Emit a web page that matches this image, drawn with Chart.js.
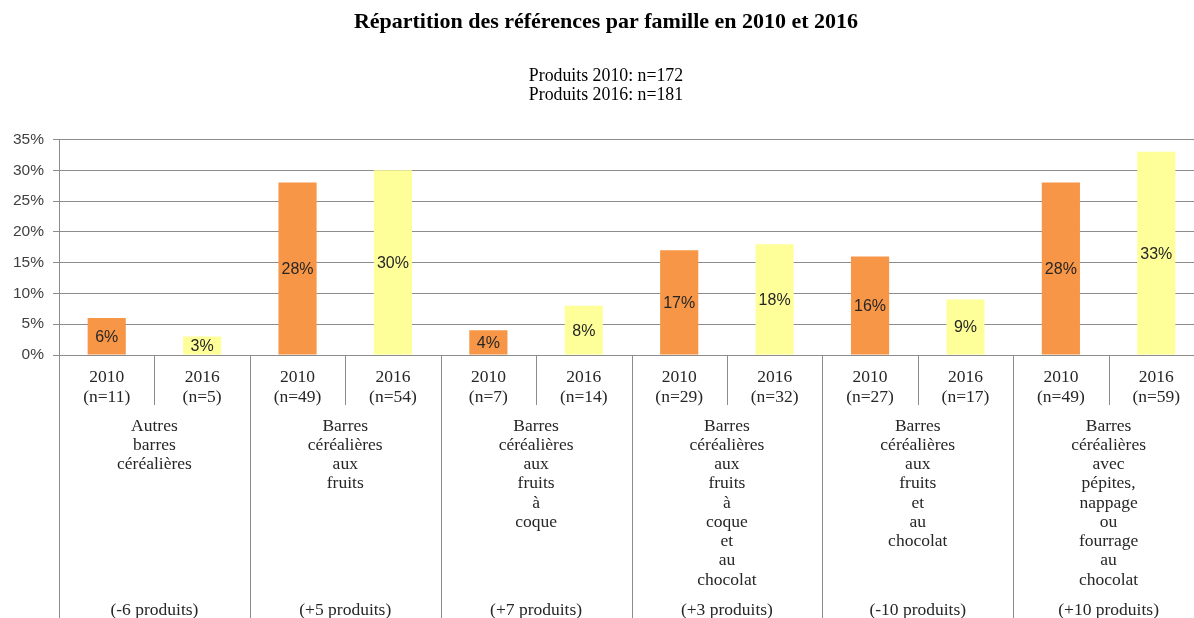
<!DOCTYPE html>
<html lang="fr">
<head>
<meta charset="utf-8">
<title>Répartition des références par famille en 2010 et 2016</title>
<script src="https://cdn.jsdelivr.net/npm/chart.js@4/dist/chart.umd.min.js"></script>
<style>
  html, body { margin: 0; padding: 0; background: #fff; overflow: hidden; }
  /* la zone de tracé déborde un peu à droite, comme dans l'original */
  #wrap { position: relative; width: 1204px; height: 618px; }
</style>
</head>
<body>
<div id="wrap"><canvas id="graphique"></canvas></div>
<script>
// familles de produits (un mot par ligne sous l'axe)
const familles = [
    'Autres barres céréalières',
    'Barres céréalières aux fruits',
    'Barres céréalières aux fruits à coque',
    'Barres céréalières aux fruits à coque et au chocolat',
    'Barres céréalières aux fruits et au chocolat',
    'Barres céréalières avec pépites, nappage ou fourrage au chocolat'
];
const annees = ['2010', '2016'];
const n2010 = [11, 49, 7, 29, 27, 49];
const n2016 = [5, 54, 14, 32, 17, 59];
const part2010 = [6, 28, 4, 17, 16, 28];
const part2016 = [3, 30, 8, 18, 9, 33];
const ecarts = ['-6', '+5', '+7', '+3', '-10', '+10'];
const ticksY = [0, 5, 10, 15, 20, 25, 30, 35];

const couleur2010 = '#F79646';
const couleur2016 = '#FFFF99';
const couleurTrait = '#8c8c8c';
const policeSerif = '"Liberation Serif", serif';
const policeSans = '"Liberation Sans", Arial, sans-serif';

// on entrelace 2010 / 2016 pour chaque famille
let etiquettes = [];
let valeurs = [];
let couleurs = [];
familles.forEach(function(nom, f) {
    etiquettes.push([annees[0], `(n=${n2010[f]})`]);
    valeurs.push(part2010[f]);
    couleurs.push(couleur2010);
    etiquettes.push([annees[1], `(n=${n2016[f]})`]);
    valeurs.push(part2016[f]);
    couleurs.push(couleur2016);
});

const etiquettesBarres = {
    id: 'etiquettesBarres',
    afterDatasetsDraw(chart) {
        const ctx = chart.ctx;
        const meta = chart.getDatasetMeta(0);
        ctx.save();
        ctx.font = `16px ${policeSans}`;
        ctx.fillStyle = '#262626';
        ctx.textAlign = 'center';
        ctx.textBaseline = 'middle';
        meta.data.forEach(function(barre, i) {
            ctx.fillText(valeurs[i] + '%', barre.x, (barre.y + barre.base) / 2 + 1);
        });
        ctx.restore();
    }
};

// axe des catégories à trois niveaux, dessiné à partir de l'échelle x
const axeCategories = {
    id: 'axeCategories',
    afterDraw(chart) {
        const ctx = chart.ctx;
        const x = chart.scales.x;
        const bas = chart.chartArea.bottom;
        const pas = (x.right - x.left) / etiquettes.length;
        ctx.save();
        ctx.strokeStyle = couleurTrait;
        ctx.lineWidth = 1;
        for (let k = 0; k <= etiquettes.length; k++) {
            const px = Math.round(x.left + k * pas) + 0.5;
            const fin = k % 2 === 0 ? chart.height : bas + 50;
            ctx.beginPath();
            ctx.moveTo(px, bas);
            ctx.lineTo(px, fin);
            ctx.stroke();
        }
        ctx.fillStyle = '#262626';
        ctx.font = `17.5px ${policeSerif}`;
        ctx.textAlign = 'center';
        ctx.textBaseline = 'middle';
        etiquettes.forEach(function(lignes, i) {
            const cx = x.getPixelForValue(i);
            lignes.forEach(function(t, j) {
                ctx.fillText(t, cx, bas + 22 + j * 20);
            });
        });
        familles.forEach(function(nom, f) {
            const cx = x.left + (2 * f + 1) * pas;
            nom.split(' ').forEach(function(mot, j) {
                ctx.fillText(mot, cx, bas + 71 + j * 19.25);
            });
            ctx.fillText(`(${ecarts[f]} produits)`, cx, bas + 255);
        });
        ctx.restore();
    }
};

const ctx = document.getElementById('graphique').getContext('2d');
new Chart(ctx, {
    type: 'bar',
    data: {
        labels: etiquettes,
        datasets: [{
            data: valeurs,
            backgroundColor: couleurs,
            borderWidth: 0,
            barPercentage: 0.4,
            categoryPercentage: 1
        }]
    },
    options: {
        responsive: true,
        maintainAspectRatio: false,
        animation: false,
        layout: { padding: { left: 8, right: 0, top: 0, bottom: 0 } },
        plugins: {
            legend: { display: false },
            tooltip: { enabled: false },
            title: {
                display: true,
                text: 'Répartition des références par famille en 2010 et 2016',
                color: '#000',
                font: { family: policeSerif, size: 22, weight: 'bold', lineHeight: 1.2 },
                padding: { top: 9.6, bottom: 0 }
            },
            subtitle: {
                display: true,
                text: ['Produits 2010: n=172', 'Produits 2016: n=181'],
                color: '#000',
                font: { family: policeSerif, size: 17.8, lineHeight: 19 / 17.8 },
                padding: { top: 30.4, bottom: 35.1 }
            }
        },
        scales: {
            x: {
                grid: { display: false },
                border: { display: true, color: couleurTrait, width: 1 },
                ticks: { display: false },
                afterFit(scale) { scale.height = 263; }
            },
            y: {
                min: 0,
                max: 35,
                afterBuildTicks(scale) { scale.ticks = ticksY.map(v => ({ value: v })); },
                grid: { color: couleurTrait, lineWidth: 1, drawTicks: true, tickLength: 6 },
                border: { display: true, color: couleurTrait, width: 1 },
                ticks: {
                    padding: 9,
                    color: '#404040',
                    font: { family: policeSans, size: 15.5 },
                    callback: v => v + '%'
                },
                afterFit(scale) { scale.width = 51; }
            }
        }
    },
    plugins: [etiquettesBarres, axeCategories]
});
</script>
</body>
</html>
